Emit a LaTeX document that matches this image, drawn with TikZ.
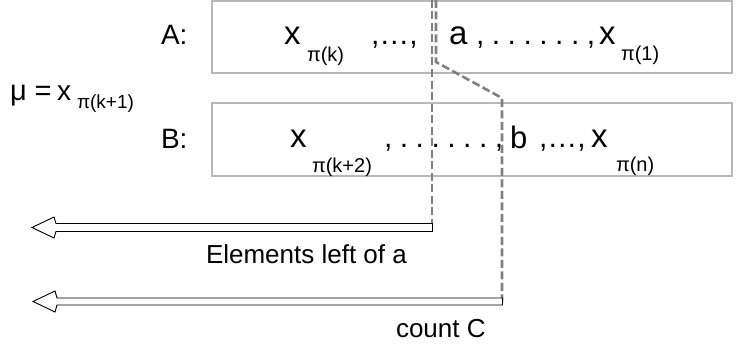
\documentclass[tikz,border=0pt]{standalone}
\usepackage{fontspec}
\setmainfont{Liberation Sans}
\newcommand{\fs}[1]{\fontsize{#1}{#1}\selectfont\frenchspacing}
\newcommand{\dotrow}{\spaceskip=7.5pt\relax , . . . . . . ,}
\tikzset{
  every node/.style={inner sep=0pt, outer sep=0pt, anchor=base west},
  box/.style={draw=black!28, line width=1.6pt, rectangle, anchor=north west, fill=none},
  maintext/.style={font=\fs{30}},
  lettertext/.style={font=\fs{33}},
  subtext/.style={font=\fs{20}},
  labeltext/.style={font=\fs{28}},
  captext/.style={font=\fs{26}},
  dsh/.style={draw=black!50, line width=2.6pt, dash pattern=on 8pt off 3.5pt},
  hollow/.style={draw=black, line width=0.9pt, fill=white, line join=miter},
}
\begin{document}
\begin{tikzpicture}[x=1pt,y=-1pt]
\useasboundingbox (0,0) rectangle (736,345);
% boxes
\node[box, minimum width=520pt, minimum height=72.5pt] (A) at (212,0.8) {};
\node[box, minimum width=520pt, minimum height=73pt] (B) at (212,103) {};
% labels
\node[labeltext] (la) at (161,45) {A:};
\node[labeltext] (lb) at (161,148) {B:};
% mu line
\node[font=\fs{29}] (mu) at (10,100) {μ =};
\node[font=\fs{28}] (mux) at (57,100) {x};
\node[font=\fs{19}] (musub) at (77,108) {π(k+1)};
% row A
\node[lettertext] (a1) at (284,45) {x};
\node[subtext] (a1s) at (307,62) {π(k)};
\node[maintext] (a2) at (371,45) {,…,};
\node[lettertext] (a3) at (449,45) {a};
\node[maintext] (a4) at (476,45) {\dotrow};
\node[lettertext] (a5) at (599,45) {x};
\node[subtext] (a5s) at (621,61) {π(1)};
% row B
\node[lettertext] (b1) at (290,147) {x};
\node[subtext] (b1s) at (312,172) {π(k+2)};
\node[maintext] (b2) at (384,147) {\dotrow};
\node[font=\fs{31}] (b3) at (510,148) {b};
\node[maintext] (b4) at (539,147) {,…,};
\node[lettertext] (b5) at (591,147) {x};
\node[subtext] (b5s) at (616,171) {π(n)};
% dashed connectors
\coordinate (t1) at (432,0);
\coordinate (t2) at (436,0);
\coordinate (k1) at (436,62);
\coordinate (k2) at (502,98);
\coordinate (ea) at (432,227.5);
\coordinate (ec) at (502,301.5);
\draw[dsh] (t1) -- (ea);
\draw[dsh] (t2) -- (k1) -- (k2) -- (ec);
% hollow arrows
\draw[hollow] (ea) ++(0.5,-4) -- ++(-376.5,0) -- ++(-2,-6.5) -- ++(-22,10.5) -- ++(22,10.5) -- ++(2,-6.5) -- ++(376.5,0) -- cycle;
\draw[hollow] (ec) ++(0.5,-3.5) -- ++(-445.5,0) -- ++(-2,-7) -- ++(-22,10.5) -- ++(22,10.5) -- ++(2,-7) -- ++(445.5,0) -- cycle;
% captions
\node[captext] (ce) at (206,263) {Elements left of a};
\node[captext] (cc) at (396,337) {count C};
\end{tikzpicture}
\end{document}
